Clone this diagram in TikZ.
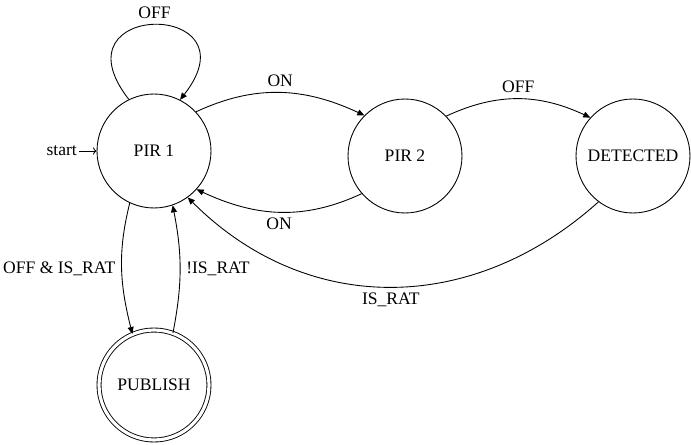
\documentclass[tikz,border=0pt]{standalone}
\usepackage{fontspec}
\setmainfont{Liberation Serif}
\usetikzlibrary{arrows.meta}

\begin{document}
\begin{tikzpicture}[x=0.02cm,y=0.02cm,line width=0.5pt,font=\fontsize{10}{12}\selectfont,state/.style={circle,draw,minimum size=2.28cm,inner sep=0},final state/.style={state,double,double distance=1.8pt,minimum size=2.2cm},wire/.style={draw,-{Triangle[length=4pt,width=3.4pt]}},entry wire/.style={draw,-{To[length=2pt]}}]
  \useasboundingbox (0,0) rectangle (691,444);
  \node[state] (pir1) at (154,293) {PIR 1};
  \node[state] (pir2) at (405,288) {PIR 2};
  \node[state] (det) at (633,288) {DETECTED};
  \node[final state] (pub) at (154,59) {PUBLISH};
  \node[anchor=east,inner sep=1pt] (start) at (79,293) {start};
  \path[entry wire] (start.east) -- (pir1.west);
  \path[wire] (pir1.116) to[out=128,in=52,looseness=6.3] node[above] {OFF} (pir1.63);
  \path[wire] (pir1.43) to[out=25,in=155] node[above] {ON} (pir2.135);
  \path[wire] (pir2.44) to[out=25,in=155] node[above] {OFF} (det.138);
  \path[wire] (pir2.-139) to[out=-155,in=-25] node[below] {ON} (pir1.-42);
  \path[wire] (det.-127) to[out=-138,in=-45,looseness=1.05] node[below] {IS\_RAT} (pir1.-54);
  \path[wire] (pir1.-115) to[out=-104,in=104] node[left] {OFF \& IS\_RAT} (pub.113);
  \path[wire] (pub.70) to[out=79,in=-79] node[right] {!IS\_RAT} (pir1.-71);
\end{tikzpicture}
\end{document}
